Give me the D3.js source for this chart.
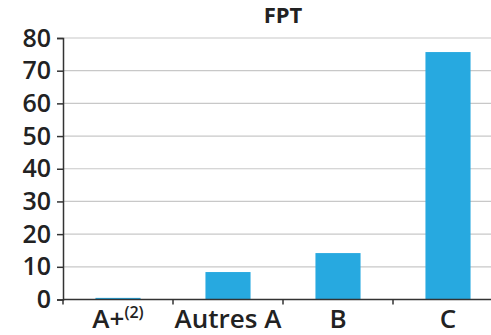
<!DOCTYPE html>
<html><head><meta charset="utf-8">
<script src="https://cdn.jsdelivr.net/npm/d3@7"></script>
<style>body{margin:0;background:#fff}svg{display:block}text{font-family:"Open Sans","Noto Sans",sans-serif}</style>
</head><body>
<script>
const categories = ["A+", "Autres A", "B", "C"];
const values = [0.5, 8.4, 14.2, 75.7];
const yTicks = [0, 10, 20, 30, 40, 50, 60, 70, 80];
const title = "FPT";

const W = 491, H = 335;
const svg = d3.select("body").append("svg").attr("width", W).attr("height", H);
const x0 = 63, x1 = 503, yTop = 38, yBot = 299.5;
const x = d3.scaleBand().domain(categories).range([x0, x1]).paddingInner(0.59).paddingOuter(0.295);
const xb = d3.scaleBand().domain(categories).range([x0, x1]);
const y = d3.scaleLinear().domain([0, 80]).range([yBot, yTop]);

svg.append("g").selectAll("line").data(yTicks.filter(d => d > 0)).join("line")
  .attr("x1", x0).attr("x2", W).attr("y1", d => y(d)).attr("y2", d => y(d))
  .attr("stroke", "#c8c8c8").attr("stroke-width", 1.2);

svg.append("g").selectAll("rect").data(values).join("rect")
  .attr("x", (d, i) => x(categories[i])).attr("width", x.bandwidth())
  .attr("y", d => y(d)).attr("height", d => yBot - y(d))
  .attr("fill", "#27a9e0");

const yAxis = svg.append("g").attr("transform", `translate(${x0},0)`)
  .call(d3.axisLeft(y).tickValues(yTicks).tickSize(6).tickPadding(6));
yAxis.select(".domain").attr("stroke", "#333").attr("stroke-width", 1.5);
yAxis.selectAll(".tick line").attr("stroke", "#333").attr("stroke-width", 1.5);
yAxis.selectAll("text").attr("font-size", 25).attr("font-weight", 600).attr("fill", "#222");

const xAxis = svg.append("g").attr("transform", `translate(0,${yBot})`);
xAxis.append("line").attr("x1", x0).attr("x2", W).attr("stroke", "#333").attr("stroke-width", 1.5);
xAxis.selectAll("line.t").data(categories).join("line").attr("class", "t")
  .attr("x1", d => xb(d)).attr("x2", d => xb(d)).attr("y1", 0).attr("y2", 5)
  .attr("stroke", "#333").attr("stroke-width", 1.5);
const lab = xAxis.selectAll("text").data(categories).join("text")
  .attr("x", d => xb(d) + xb.bandwidth() / 2).attr("y", 28.5)
  .attr("text-anchor", "middle").attr("font-size", 26).attr("font-weight", 600).attr("fill", "#222");
lab.append("tspan").text(d => d);
lab.filter(d => d === "A+").append("tspan").attr("font-size", 16).attr("dy", -10).text("(2)");

svg.append("text").attr("x", 283).attr("y", 23).attr("text-anchor", "middle")
  .attr("font-size", 22).attr("font-weight", "bold").attr("fill", "#222").text(title);
</script>
</body></html>
